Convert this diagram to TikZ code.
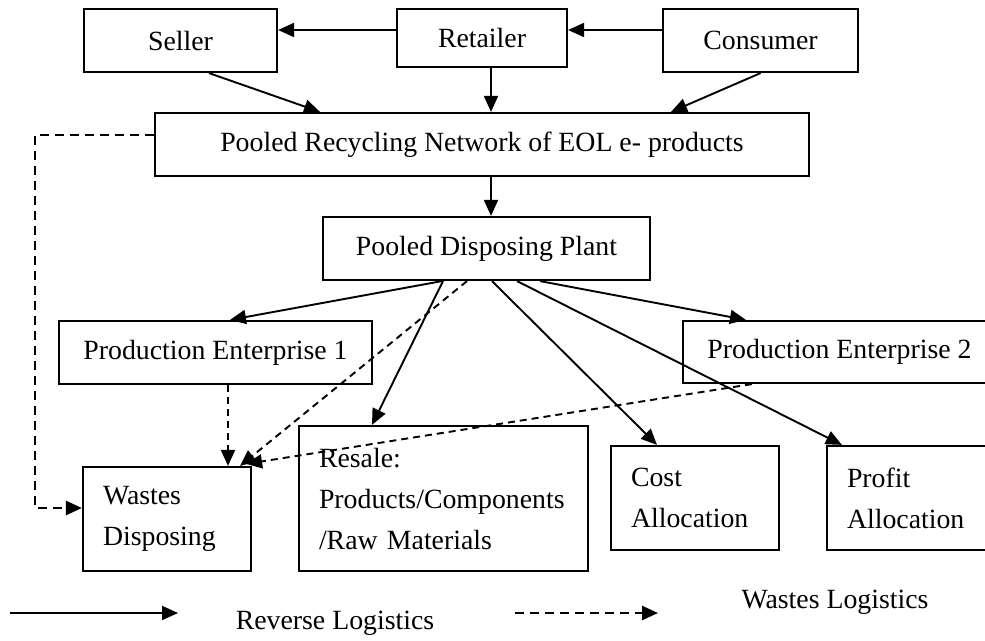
\documentclass[tikz,border=0pt]{standalone}
\usepackage{fontspec}
\setmainfont{Liberation Serif}
\usetikzlibrary{arrows.meta}

\begin{document}
\begin{tikzpicture}[x=1pt, y=-1pt,
    font=\fontsize{27.8}{41}\selectfont,
    box/.style={draw, rectangle, line width=2.2pt, inner sep=0pt},
    multibox/.style={box, align=left},
    flow/.style={-{Triangle[length=16pt,width=14pt]}, line width=1.9pt},
    wasteline/.style={flow, dash pattern=on 7pt off 5pt},
    wastethick/.style={flow, line width=2.6pt, dash pattern=on 9pt off 6pt}]

  \clip (0,0) rectangle (985,640);
  \fill[white] (0,0) rectangle (985,640);

  % top row of collectors
  \node[box, minimum width=193, minimum height=63] (sel) at (180.5,40.5) {Seller};
  \node[box, minimum width=170, minimum height=58] (ret) at (482,38) {Retailer};
  \node[box, minimum width=195, minimum height=63] (con) at (760.5,40.5) {Consumer};

  % pooled network and plant
  \node[box, minimum width=654, minimum height=63] (pr) at (482,144.5)
    {Pooled Recycling Network of EOL e- products};
  \node[box, minimum width=327, minimum height=63] (pdp) at (486.5,248.5)
    {Pooled Disposing Plant};

  % production enterprises
  \node[box, minimum width=313, minimum height=63] (pe1) at (215.5,352.5)
    {Production Enterprise 1};
  \node[box, minimum width=313, minimum height=62] (pe2) at (839.5,352)
    {Production Enterprise 2};

  % outcomes
  \node[multibox, minimum width=168, minimum height=104, text width=128] (was) at (167,519)
    {Wastes\\Disposing};
  \node[multibox, minimum width=289, minimum height=145, text width=249] (res) at (443.5,498.5)
    {Resale:\\Products/Components\\/Raw Materials};
  \node[multibox, minimum width=168, minimum height=104, text width=128] (cos) at (695,498)
    {Cost\\Allocation};
  \node[multibox, minimum width=168, minimum height=104, text width=128] (pro) at (911,498)
    {Profit\\Allocation};

  % reverse logistics among collectors
  \draw[flow] ([yshift=8pt]ret.west) -- ([yshift=8pt]ret.west -| sel.east);
  \draw[flow] ([yshift=10.5pt]con.west) -- ([yshift=8pt]ret.east);
  \draw[flow] ([xshift=28.5pt]sel.south) -- ([xshift=-162pt]pr.north);
  \draw[flow] ([xshift=9pt]ret.south) -- ([xshift=9pt]ret.south |- pr.north);
  \draw[flow] (con.south) -- ([xshift=189pt]pr.north);
  \draw[flow] ([xshift=9pt]pr.south) -- ([xshift=9pt]pr.south |- pdp.north);

  % from the plant
  \draw[flow] ([xshift=-44.5pt]pdp.south) -- ([xshift=14.5pt]pe1.north);
  \draw[flow] ([xshift=-43.5pt]pdp.south) -- ([xshift=-71.5pt]res.north);
  \draw[flow] ([xshift=5.5pt]pdp.south) -- ([xshift=-38pt]cos.north);
  \draw[flow] ([xshift=30.5pt]pdp.south) -- ([xshift=16pt]pro.north west);
  \draw[flow] ([xshift=53.5pt]pdp.south) -- ([xshift=64pt]pe2.north west);

  % wastes logistics
  \coordinate (bend) at (35,508);
  \draw[wastethick] ([yshift=9.5pt]pr.west) -| (bend) -- ([yshift=11pt]was.west);
  \draw[wasteline] ([xshift=12.5pt]pe1.south) -- ([xshift=12.5pt]pe1.south |- was.north);
  \draw[wasteline] ([xshift=-19.5pt]pdp.south) -- ([xshift=-12pt]was.north east);
  \draw[wasteline] ([xshift=70pt]pe2.south west) -- ([xshift=-6pt,yshift=2pt]was.north east);

  % legend
  \coordinate (ls0) at (10,613);
  \coordinate (ls1) at (178,613);
  \coordinate (lw0) at (515,613);
  \coordinate (lw1) at (658,613);
  \draw[flow] (ls0) -- (ls1);
  \draw[wastethick] (lw0) -- (lw1);
  \node (lrev) at (335,623) {Reverse Logistics};
  \node (lwas) at (835,602) {Wastes Logistics};
\end{tikzpicture}
\end{document}
